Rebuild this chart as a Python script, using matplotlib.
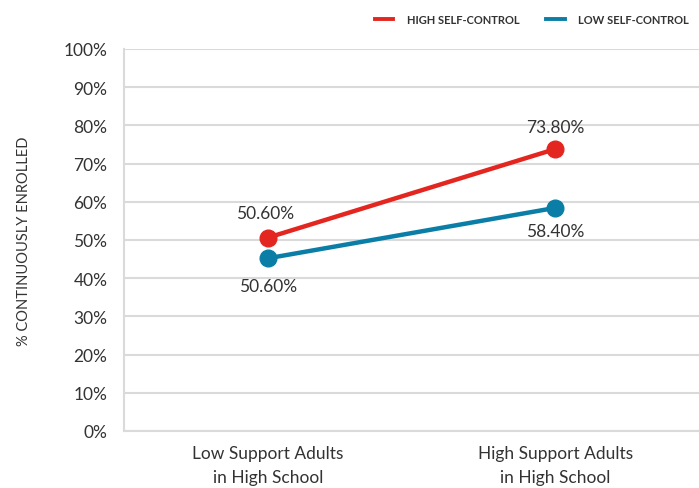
import matplotlib
matplotlib.use("Agg")
import matplotlib.pyplot as plt

# data
categories = ["Low Support Adults\nin High School", "High Support Adults\nin High School"]
high_sc = [50.6, 73.8]
low_sc = [45.2, 58.4]
high_labels = ["50.60%", "73.80%"]
low_labels = ["50.60%", "58.40%"]
yticks = list(range(0, 101, 10))

RED = "#e3261f"
BLUE = "#0a7ea6"
GRID = "#dadada"
TXT = "#333333"

plt.rcParams["font.family"] = ["Lato", "DejaVu Sans"]

fig = plt.figure(figsize=(6.99, 4.89), dpi=100)
ax = fig.add_axes([0.1774, 0.1166, 0.8226, 0.7812])

x = list(range(len(categories)))
ax.plot(x, high_sc, color=RED, lw=3.2, marker="o", ms=12, label="HIGH SELF-CONTROL", zorder=3)
ax.plot(x, low_sc, color=BLUE, lw=3.2, marker="o", ms=12, label="LOW SELF-CONTROL", zorder=3)

# value labels: red above, blue below
fs = 12.5
ax.annotate(high_labels[0], (x[0], high_sc[0]), xytext=(-2, 12), textcoords="offset points",
            ha="center", va="bottom", fontsize=fs, color=TXT)
ax.annotate(high_labels[1], (x[1], high_sc[1]), xytext=(0, 10), textcoords="offset points",
            ha="center", va="bottom", fontsize=fs, color=TXT)
ax.annotate(low_labels[0], (x[0], low_sc[0]), xytext=(0, -14), textcoords="offset points",
            ha="center", va="top", fontsize=fs, color=TXT)
ax.annotate(low_labels[1], (x[1], low_sc[1]), xytext=(0, -11), textcoords="offset points",
            ha="center", va="top", fontsize=fs, color=TXT)

ax.set_xlim(-0.5, 1.5)
ax.set_ylim(0, 100)
ax.set_yticks(yticks)
ax.set_yticklabels([f"{v}%" for v in yticks])
ax.set_xticks(x)
ax.set_xticklabels(categories, linespacing=1.6)
ax.tick_params(axis="both", length=0, labelsize=fs, labelcolor=TXT)
ax.tick_params(axis="y", pad=12)
ax.tick_params(axis="x", pad=10)
ax.grid(axis="y", color=GRID, lw=1.5)
ax.set_axisbelow(True)
for side in ["top", "right"]:
    ax.spines[side].set_visible(False)
for side in ["left", "bottom"]:
    ax.spines[side].set_color(GRID)
    ax.spines[side].set_linewidth(1.5)

ax.set_ylabel("% CONTINUOUSLY ENROLLED", fontsize=10.5, color=TXT)
ax.yaxis.set_label_coords(-0.162, 0.5)

fig.legend(loc="upper right", bbox_to_anchor=(1.0, 0.99), ncol=2, frameon=False,
           handlelength=1.7, handletextpad=1.2, columnspacing=2.4,
           prop={"size": 8, "weight": "bold"}, labelcolor=TXT)
for h in fig.legends[0].get_lines():
    h.set_marker("")
    h.set_linewidth(2.8)

fig.savefig("out.png", dpi=100)
